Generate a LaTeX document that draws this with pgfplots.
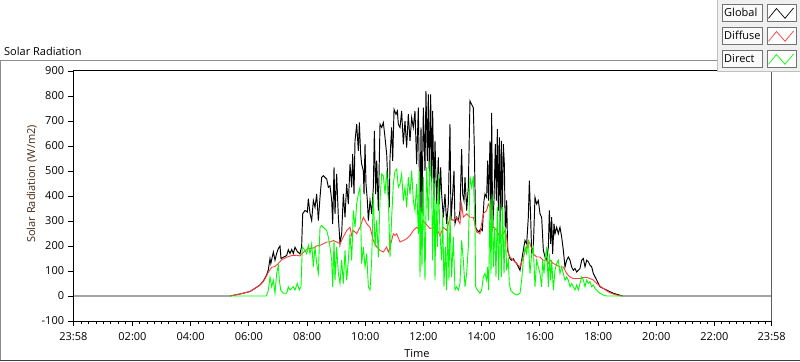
\documentclass[border=0pt]{standalone}
\usepackage{fontspec}
\setmainfont{Open Sans}
\usepackage{pgfplots}
\pgfplotsset{compat=1.18}
\definecolor{sgreen}{RGB}{0,255,0}
\definecolor{sred}{RGB}{255,60,60}
\definecolor{framegray}{RGB}{140,140,140}
\definecolor{legbg}{RGB}{240,240,240}
\definecolor{boxfill}{RGB}{250,250,250}
\definecolor{ylab}{RGB}{70,45,25}

\pgfplotstableread{
t v
-0.0333 0
5.35 0
5.695 8
6.039 18
6.268 35
6.383 44
6.497 60
6.610 84
6.669 105
6.726 150
6.755 130
6.841 176
6.898 143
6.955 171
7.013 190
7.070 200
7.104 150
7.184 155
7.299 162
7.356 185
7.413 170
7.471 186
7.528 170
7.585 195
7.666 178
7.757 168
7.814 200
7.849 329
7.929 342
8.009 336
8.043 389
8.101 330
8.158 302
8.216 382
8.273 355
8.330 408
8.387 302
8.445 395
8.502 475
8.559 481
8.674 468
8.731 435
8.788 441
8.846 382
8.880 289
8.926 514
8.960 329
9.017 488
9.075 315
9.132 209
9.189 249
9.246 408
9.304 315
9.361 448
9.418 368
9.476 528
9.533 435
9.567 567
9.613 408
9.647 620
9.705 687
9.762 581
9.796 694
9.842 567
9.876 528
9.934 501
9.957 408
9.991 607
10.025 448
10.071 382
10.106 302
10.163 382
10.220 329
10.277 435
10.312 660
10.358 408
10.392 541
10.449 342
10.506 687
10.564 674
10.621 694
10.678 634
10.736 567
10.793 408
10.827 355
10.850 554
10.907 674
10.942 541
10.988 747
11.056 727
11.102 740
11.136 687
11.194 674
11.250 740
11.308 607
11.365 700
11.422 594
11.479 727
11.537 620
11.594 713
11.651 674
11.708 740
11.766 528
11.823 753
11.880 315
11.915 674
11.949 329
11.995 753
12.052 501
12.086 820
12.132 541
12.167 806
12.201 475
12.247 806
12.281 435
12.316 740
12.361 382
12.396 620
12.453 368
12.510 554
12.545 368
12.590 514
12.625 408
12.682 315
12.739 408
12.797 289
12.854 368
12.911 687
12.946 302
13.003 408
13.049 501
13.083 289
13.140 315
13.198 302
13.255 342
13.312 587
13.346 408
13.392 382
13.427 475
13.484 342
13.541 435
13.598 780
13.656 766
13.713 753
13.747 594
13.793 275
13.851 262
13.908 256
13.965 269
14.022 262
14.080 382
14.114 408
14.171 395
14.206 541
14.240 382
14.286 620
14.320 302
14.343 733
14.378 275
14.423 382
14.469 607
14.504 382
14.538 667
14.572 342
14.607 634
14.641 275
14.675 620
14.710 315
14.744 607
14.779 528
14.813 249
14.859 382
14.893 183
14.927 169
14.973 149
15.031 143
15.088 149
15.145 136
15.202 130
15.260 116
15.317 103
15.374 143
15.431 183
15.489 222
15.546 209
15.603 315
15.638 461
15.683 315
15.718 169
15.775 196
15.832 395
15.889 368
15.947 382
16.004 329
16.061 315
16.119 183
16.176 156
16.233 143
16.291 196
16.325 342
16.371 209
16.405 315
16.439 169
16.485 289
16.520 249
16.577 275
16.634 249
16.691 275
16.749 236
16.806 183
16.863 116
16.921 143
16.978 156
17.035 143
17.092 116
17.150 103
17.207 110
17.264 96
17.321 103
17.379 110
17.436 143
17.494 150
17.551 117
17.608 143
17.665 137
17.723 123
17.780 117
17.837 90
17.894 77
17.952 64
18.009 50
18.066 37
18.181 30
18.295 24
18.410 17
18.524 11
18.639 7
18.754 3
18.845 0
23.967 0
}\globaltab

\pgfplotstableread{
t v
5.35 0
5.695 8
6.039 18
6.268 35
6.383 44
6.497 58
6.610 80
6.669 95
6.783 115
6.898 118
7.013 130
7.127 145
7.299 155
7.471 162
7.643 163
7.757 160
7.849 172
7.929 180
8.043 190
8.101 190
8.216 192
8.330 200
8.445 203
8.559 209
8.674 216
8.788 216
8.903 222
9.017 216
9.132 209
9.246 236
9.361 262
9.476 275
9.533 242
9.590 262
9.705 249
9.819 275
9.934 315
9.991 302
10.048 289
10.163 275
10.220 249
10.277 222
10.392 196
10.506 183
10.621 176
10.736 196
10.793 176
10.850 196
10.964 249
11.022 242
11.079 249
11.194 216
11.308 222
11.422 229
11.537 242
11.651 262
11.766 275
11.880 262
11.995 300
12.109 285
12.224 270
12.338 275
12.453 270
12.567 242
12.682 275
12.797 262
12.911 315
13.026 302
13.140 315
13.255 289
13.312 368
13.369 315
13.484 329
13.598 315
13.713 315
13.827 256
13.942 249
14.056 329
14.171 342
14.228 368
14.286 355
14.401 275
14.515 262
14.629 236
14.744 249
14.801 262
14.859 236
14.916 169
14.973 156
15.088 143
15.202 130
15.317 116
15.431 156
15.546 196
15.603 222
15.660 209
15.775 169
15.889 156
16.004 156
16.119 143
16.233 143
16.291 130
16.348 143
16.405 136
16.463 130
16.577 123
16.691 116
16.806 116
16.921 90
17.035 76
17.150 70
17.264 70
17.379 70
17.494 74
17.608 74
17.723 70
17.837 64
17.952 50
18.066 40
18.181 30
18.295 21
18.410 13
18.524 8
18.639 4
18.754 1
18.845 0
}\diffusetab

\pgfplotstableread{
t v
5.35 0
6.60 0
6.669 23
6.726 76
6.783 37
6.841 63
6.898 11
6.955 90
7.013 123
7.047 63
7.093 24
7.184 11
7.299 11
7.356 37
7.413 24
7.528 37
7.585 24
7.666 50
7.734 24
7.791 37
7.837 196
7.929 183
7.986 169
8.043 203
8.101 169
8.158 209
8.216 116
8.273 196
8.330 130
8.387 90
8.445 275
8.502 282
8.559 275
8.674 262
8.731 236
8.788 196
8.846 143
8.880 37
8.926 222
8.960 63
9.017 196
9.075 90
9.132 50
9.189 143
9.246 50
9.304 183
9.361 63
9.418 143
9.476 249
9.533 143
9.590 342
9.647 275
9.705 368
9.762 408
9.819 435
9.876 130
9.934 196
9.991 116
10.048 169
10.106 37
10.163 24
10.220 143
10.277 408
10.335 196
10.392 302
10.449 156
10.506 382
10.564 488
10.621 481
10.678 408
10.736 501
10.793 382
10.850 156
10.907 315
10.964 448
11.022 501
11.079 508
11.136 435
11.193 448
11.250 488
11.308 382
11.365 435
11.422 355
11.479 475
11.537 408
11.594 501
11.651 382
11.708 342
11.766 448
11.823 249
11.857 501
11.880 76
11.915 355
11.949 116
11.995 475
12.052 63
12.109 514
12.167 302
12.224 541
12.281 435
12.316 143
12.361 475
12.396 63
12.430 382
12.476 196
12.510 488
12.567 249
12.625 143
12.659 329
12.705 37
12.751 196
12.797 24
12.831 302
12.877 63
12.911 329
12.968 76
13.026 236
13.083 24
13.140 37
13.198 24
13.255 50
13.312 222
13.369 143
13.427 37
13.484 90
13.541 196
13.598 478
13.656 435
13.713 478
13.770 275
13.793 37
13.851 24
13.942 11
13.999 24
14.056 76
14.114 90
14.171 63
14.206 116
14.240 24
14.286 382
14.320 90
14.355 408
14.401 116
14.446 275
14.492 76
14.538 355
14.584 63
14.629 368
14.675 76
14.721 355
14.767 90
14.813 275
14.859 103
14.916 143
14.950 50
14.996 24
15.088 11
15.202 4
15.317 11
15.374 63
15.431 143
15.489 196
15.546 169
15.603 222
15.660 90
15.718 169
15.775 196
15.832 37
15.889 143
15.947 116
16.004 90
16.061 37
16.096 143
16.142 90
16.176 143
16.233 196
16.291 37
16.325 169
16.371 63
16.405 143
16.463 24
16.520 103
16.577 130
16.634 143
16.691 90
16.749 116
16.806 90
16.863 63
16.921 76
16.978 63
17.035 37
17.092 50
17.150 37
17.207 24
17.264 44
17.321 24
17.379 50
17.436 77
17.494 64
17.551 37
17.608 64
17.665 50
17.723 57
17.780 37
17.837 44
17.894 30
17.952 24
18.009 17
18.066 11
18.181 4
18.295 0
18.845 0
}\directtab

\begin{document}
\fontsize{11bp}{13bp}\selectfont
\begin{tikzpicture}[x=1bp,y=1bp]
\path[use as bounding box] (0,0) rectangle (800,361);
\fill[white] (0,0) rectangle (800,361);
% outer frame
\draw[framegray, line width=1bp] (805,300.5) -- (0.5,300.5) -- (0.5,0.5);
\draw[black!75, line width=1bp] (0.5,0.5) -- (805,0.5);
% title
\node[anchor=base west, inner sep=0pt] at (4,306) {Solar Radiation};
\begin{axis}[
  at={(73.3bp,40bp)}, anchor=south west,
  scale only axis, width=698.4bp, height=251bp,
  xmin=-0.0333, xmax=23.9667, ymin=-100, ymax=904,
  xtick={-0.0333,2,4,6,8,10,12,14,16,18,20,22,23.9667},
  xticklabels={23:58,02:00,04:00,06:00,08:00,10:00,12:00,14:00,16:00,18:00,20:00,22:00,23:58},
  minor xtick={0.25,0.5,...,23.8},
  ytick={-100,0,100,200,300,400,500,600,700,800,900},
  tick align=outside, tick pos=left,
  major tick length=5bp, minor tick length=3bp,
  every tick/.style={black, line width=0.8bp},
  axis line style={black, line width=1bp},
  /pgf/number format/assume math mode=true,
  ticklabel style={font=\fontsize{11bp}{13bp}\selectfont},
  yticklabel style={anchor=east, inner sep=0pt, xshift=-4bp},
  xticklabel style={anchor=north, inner sep=0pt, yshift=-6bp},
  clip=true,
]
\addplot[black, line width=0.95bp] table[x=t,y=v] {\globaltab};
\addplot[sred, line width=0.9bp] table[x=t,y=v] {\diffusetab};
\addplot[sgreen, line width=0.9bp] table[x=t,y=v] {\directtab};
\draw[framegray, line width=1bp] (rel axis cs:1,0) -- (rel axis cs:1,1);
\end{axis}
% y label and x label
\node[rotate=90, text=ylab] at (31.7,177) {Solar Radiation (W/m2)};
\node at (417,7) {Time};
% legend panel
\fill[legbg] (717,289) rectangle (800,361);
\draw[black!25] (717.5,361) -- (717.5,289.5) -- (800,289.5);
\foreach \k/\name/\col in {0/Global/black,1/Diffuse/sred,2/Direct/sgreen}{
  \pgfmathsetmacro{\T}{361-4-23*\k}
  \pgfmathsetmacro{\B}{\T-17}
  \draw[black!55, fill=boxfill] (722,\B) rectangle (762,\T);
  \node[anchor=west, inner sep=0pt] at (724,\B+8.5) {\name};
  \draw[black!55, fill=white] (767,\B) rectangle (796,\T);
  \draw[\col, line width=0.7bp] (768.5,\B+2.7) -- (776.5,\T-4.5) -- (785,\B+2.7) -- (793.5,\T-4);
}
\end{tikzpicture}
\end{document}
